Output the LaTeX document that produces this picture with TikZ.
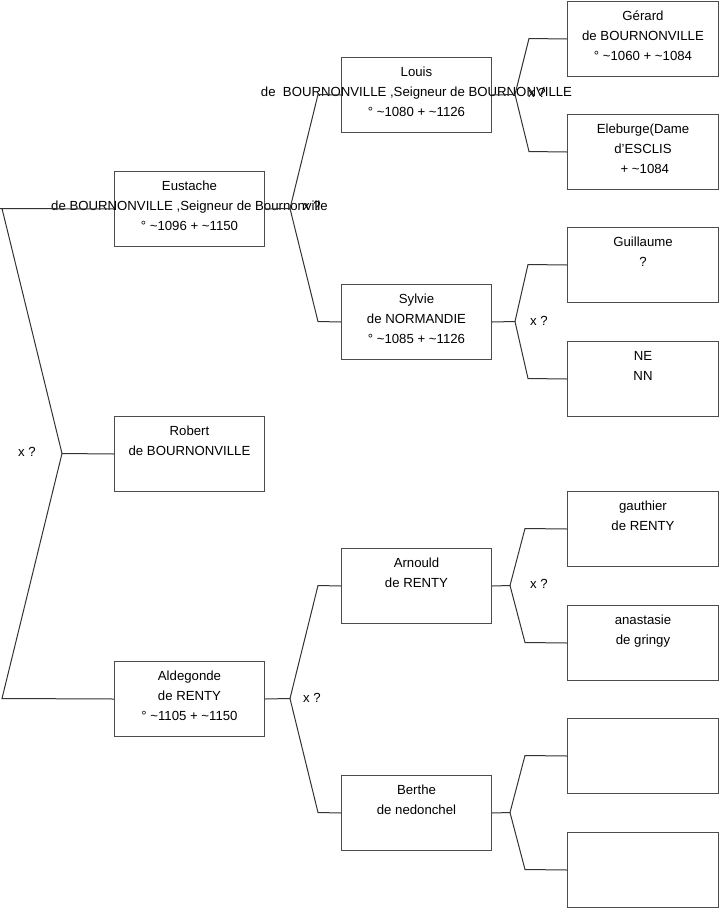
\documentclass[tikz,border=0pt]{standalone}
\usepackage{fontspec}
\setmainfont{Liberation Sans}
\begin{document}
\begin{tikzpicture}[x=1pt,y=-1pt,
  person/.style={draw=black!70, line width=1pt, minimum height=75pt, inner sep=0pt, anchor=north west},
  gena/.style={person, minimum width=150pt},
  genc/.style={person, minimum width=151pt},
  txt/.style={anchor=north, align=center, inner sep=0pt, font=\fontsize{13.2}{20}\selectfont},
  wedmark/.style={inner sep=0pt, font=\fontsize{13.2}{20}\selectfont},
  link/.style={draw=black!80, line width=1pt}]
\useasboundingbox (0,0) rectangle (719,908);
% generation 1
\node[gena] (eus) at (114,171) {};
\node[gena] (rob) at (114,416) {};
\node[gena] (ald) at (114,661) {};
% generation 2
\node[gena] (lou) at (341,57) {};
\node[gena] (syl) at (341,284) {};
\node[gena] (arn) at (341,548) {};
\node[gena] (ber) at (341,775) {};
% generation 3
\node[genc] (ger) at (567,1) {};
\node[genc] (ele) at (567,114) {};
\node[genc] (gui) at (567,227) {};
\node[genc] (nen) at (567,341) {};
\node[genc] (gau) at (567,491) {};
\node[genc] (ana) at (567,605) {};
\node[genc] (emA) at (567,718) {};
\node[genc] (emB) at (567,832) {};
% texts
\node[txt] (eusT) at ([yshift=-5pt]eus.north) {\strut Eustache\\de BOURNONVILLE ,Seigneur de Bournonville\\° \textasciitilde1096 + \textasciitilde1150};
\node[txt] (robT) at ([yshift=-5pt]rob.north) {\strut Robert\\de BOURNONVILLE};
\node[txt] (aldT) at ([yshift=-5pt]ald.north) {\strut Aldegonde\\de RENTY\\° \textasciitilde1105 + \textasciitilde1150};
\node[txt] (louT) at ([yshift=-5pt]lou.north) {\strut Louis\\de\ \ BOURNONVILLE ,Seigneur de BOURNONVILLE\\° \textasciitilde1080 + \textasciitilde1126};
\node[txt] (sylT) at ([yshift=-5pt]syl.north) {\strut Sylvie\\de NORMANDIE\\° \textasciitilde1085 + \textasciitilde1126};
\node[txt] (arnT) at ([yshift=-5pt]arn.north) {\strut Arnould\\de RENTY};
\node[txt] (berT) at ([yshift=-5pt]ber.north) {\strut Berthe\\de nedonchel};
\node[txt] (gerT) at ([yshift=-5pt]ger.north) {\strut Gérard\\de BOURNONVILLE\\° \textasciitilde1060 + \textasciitilde1084};
\node[txt] (eleT) at ([yshift=-5pt]ele.north) {\strut Eleburge(Dame\\d'ESCLIS\\\ + \textasciitilde1084};
\node[txt] (guiT) at ([yshift=-5pt]gui.north) {\strut Guillaume\\?};
\node[txt] (nenT) at ([yshift=-5pt]nen.north) {\strut NE\\NN};
\node[txt] (gauT) at ([yshift=-5pt]gau.north) {\strut gauthier\\de RENTY};
\node[txt] (anaT) at ([yshift=-5pt]ana.north) {\strut anastasie\\de gringy};
% fork points
\coordinate (r0) at (62,453.5);
\coordinate (r1) at (2,208.5);
\coordinate (r2) at (2,698.5);
\coordinate (e0) at (290,208.5);
\coordinate (e1) at (318,94.5);
\coordinate (e2) at (318,321.5);
\coordinate (a0) at (290,698.5);
\coordinate (a1) at (318,585.5);
\coordinate (a2) at (318,812.5);
\coordinate (l0) at (515,94.5);
\coordinate (l1) at (529,38.5);
\coordinate (l2) at (529,151.5);
\coordinate (s0) at (515,321.5);
\coordinate (s1) at (528,264.5);
\coordinate (s2) at (528,378.5);
\coordinate (n0) at (510,585.5);
\coordinate (n1) at (525,528.5);
\coordinate (n2) at (525,642.5);
\coordinate (b0) at (510,812.5);
\coordinate (b1) at (525,755.5);
\coordinate (b2) at (525,869.5);
% connectors
\draw[link] (eus.west) -- (0,208.5) (r1) -- (r0) -- (r2) -- (ald.west);
\draw[link] (r0) -- (rob.west);
\draw[link] (eus.east) -- (e0) -- (e1) -- (lou.west);
\draw[link] (e0) -- (e2) -- (syl.west);
\draw[link] (ald.east) -- (a0) -- (a1) -- (arn.west);
\draw[link] (a0) -- (a2) -- (ber.west);
\draw[link] (lou.east) -- (l0) -- (l1) -- (ger.west);
\draw[link] (l0) -- (l2) -- (ele.west);
\draw[link] (syl.east) -- (s0) -- (s1) -- (gui.west);
\draw[link] (s0) -- (s2) -- (nen.west);
\draw[link] (arn.east) -- (n0) -- (n1) -- (gau.west);
\draw[link] (n0) -- (n2) -- (ana.west);
\draw[link] (ber.east) -- (b0) -- (b1) -- (emA.west);
\draw[link] (b0) -- (b2) -- (emB.west);
% marriage marks
\node[wedmark] (m0) at (27,452) {x ?};
\node[wedmark] (m1) at (312,206) {x ?};
\node[wedmark] (m2) at (312,698) {x ?};
\node[wedmark] (m3) at (537,93) {x ?};
\node[wedmark] (m4) at (539,321) {x ?};
\node[wedmark] (m5) at (539,584) {x ?};
\end{tikzpicture}
\end{document}
